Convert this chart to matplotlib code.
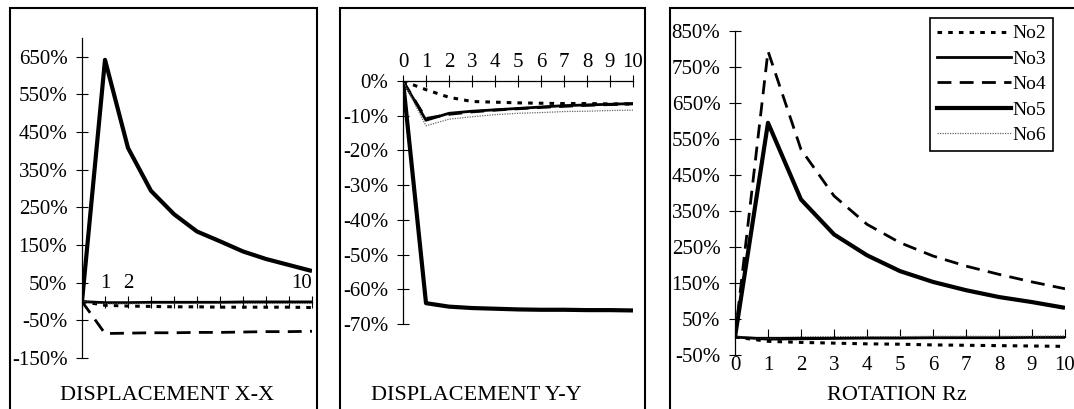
import matplotlib
matplotlib.use("Agg")
import matplotlib.pyplot as plt
from matplotlib.patches import Rectangle
from matplotlib.lines import Line2D

plt.rcParams['font.family'] = 'Liberation Serif'
plt.rcParams['axes.unicode_minus'] = False

steps = list(range(11))

# displacement X-X (%)
xx_no2 = [0, -10, -12, -13, -14, -14, -15, -15, -15, -15, -16]
xx_no3 = [0, -3, -3, -2, -2, -2, -2, -1, -1, -1, -1]
xx_no4 = [0, -85, -84, -83, -83, -82, -82, -81, -80, -80, -79]
xx_no5 = [0, 642, 408, 294, 232, 186, 160, 133, 113, 97, 81]
xx_no6 = [0, -6, -6, -5, -5, -5, -5, -5, -5, -5, -5]

# displacement Y-Y (%)
yy_no2 = [0, -2.5, -4.7, -5.9, -6.1, -6.3, -6.4, -6.5, -6.5, -6.6, -6.6]
yy_no3 = [0, -11.3, -9.3, -8.7, -8.3, -7.9, -7.5, -7.1, -6.9, -6.7, -6.5]
yy_no4 = [0, -10.8, -9.6, -8.9, -8.4, -8.0, -7.6, -7.3, -7.0, -6.8, -6.6]
yy_no5 = [0, -64.0, -65.0, -65.4, -65.6, -65.8, -65.9, -65.9, -66.0, -66.0, -66.1]
yy_no6 = [0, -12.9, -11.0, -10.3, -9.7, -9.3, -9.1, -8.8, -8.7, -8.5, -8.4]

# rotation Rz (%)
rz_no2 = [0, -12, -15, -17, -19, -20, -22, -23, -24, -25, -26]
rz_no3 = [0, -6, -5, -4, -3, -3, -2, -2, -2, -1, -1]
rz_no4 = [0, 794, 521, 392, 313, 262, 225, 197, 174, 153, 134]
rz_no5 = [0, 595, 382, 285, 227, 183, 153, 130, 111, 97, 81]
rz_no6 = [0, -3, 0, 1, 1, 1, 2, 2, 2, 2, 3]

names = ['No2', 'No3', 'No4', 'No5', 'No6']
xx_ticks = [-150, -50, 50, 150, 250, 350, 450, 550, 650]
yy_ticks = [-70, -60, -50, -40, -30, -20, -10, 0]
rz_ticks = [-50, 50, 150, 250, 350, 450, 550, 650, 750, 850]

styles = {
    'No2': dict(color='black', lw=2.2, ls=(0, (1.5, 2.0))),
    'No3': dict(color='black', lw=2.0, ls='-'),
    'No4': dict(color='black', lw=2.0, ls=(0, (5, 3))),
    'No5': dict(color='black', lw=3.0, ls='-'),
    'No6': dict(color='#666666', lw=0.9, ls=(0, (1, 1))),
}

W, H = 1074, 409
FS = 15
fig = plt.figure(figsize=(W / 100, H / 100), dpi=100)


def px_axes(x0, x1, y_top, y_bot):
    return fig.add_axes([x0 / W, 1 - y_bot / H, (x1 - x0) / W, (y_bot - y_top) / H])


def draw(ax, series):
    for name, vals in zip(names, series):
        ax.plot(steps, vals, solid_capstyle='butt', **styles[name])


def pct(ticks):
    return [f"{t}%" for t in ticks]


def style_y(ax, ticks, ylim):
    ax.set_xlim(0, 10)
    ax.set_ylim(*ylim)
    ax.set_yticks(ticks)
    ax.set_yticklabels(pct(ticks))
    ax.tick_params(axis='y', direction='inout', length=9, width=0.8, labelsize=FS, pad=6)
    ax.spines['left'].set_linewidth(0.9)
    ax.spines['right'].set_visible(False)
    ax.patch.set_visible(False)


# panel 1: displacement X-X
ax1 = px_axes(82, 312, 38, 358)
draw(ax1, [xx_no2, xx_no3, xx_no4, xx_no5, xx_no6])
style_y(ax1, xx_ticks, (-150, 700))
ax1.spines['bottom'].set_visible(False)
ax1.spines['top'].set_position(('data', 0))
ax1.spines['top'].set_linewidth(0.9)
ax1.xaxis.tick_top()
ax1.set_xticks(steps)
ax1.set_xticklabels(['', '1', '2', '', '', '', '', '', '', '', '10'])
ax1.tick_params(axis='x', direction='inout', length=9, width=0.8, labelsize=FS, pad=2)
ax1.get_xticklabels()[-1].set_ha('right')

# panel 2: displacement Y-Y
ax2 = px_axes(403, 633, 81, 324)
draw(ax2, [yy_no2, yy_no3, yy_no4, yy_no5, yy_no6])
style_y(ax2, yy_ticks, (-70, 0))
ax2.spines['bottom'].set_visible(False)
ax2.spines['top'].set_linewidth(0.9)
ax2.xaxis.tick_top()
ax2.set_xticks(steps)
ax2.set_xticklabels([str(s) for s in steps])
ax2.tick_params(axis='x', direction='inout', length=9, width=0.8, labelsize=FS, pad=2)

# panel 3: rotation Rz
ax3 = px_axes(735, 1065, 31, 355)
draw(ax3, [rz_no2, rz_no3, rz_no4, rz_no5, rz_no6])
style_y(ax3, rz_ticks, (-50, 850))
ax3.spines['top'].set_visible(False)
ax3.spines['bottom'].set_position(('data', 0))
ax3.spines['bottom'].set_linewidth(0.9)
ax3.set_xticks(steps)
ax3.set_xticklabels([str(s) for s in steps])
ax3.tick_params(axis='x', direction='in', length=6, width=0.8, labelsize=FS, pad=14)

handles = [Line2D([], [], **styles[n]) for n in names]
leg = fig.legend(handles, names, loc='upper right',
                 bbox_to_anchor=(1053 / W, 1 - 18 / H), bbox_transform=fig.transFigure,
                 fontsize=14, frameon=True, fancybox=False, framealpha=1,
                 edgecolor='black', handlelength=3.8, handletextpad=0.1,
                 labelspacing=0.4, borderpad=0.35, borderaxespad=0)
leg.get_frame().set_linewidth(1.2)

# panel titles
fig.text(167 / W, 1 - 396 / H, 'DISPLACEMENT X-X', ha='center', va='center', fontsize=FS + 1)
fig.text(476 / W, 1 - 396 / H, 'DISPLACEMENT Y-Y', ha='center', va='center', fontsize=FS + 1)
fig.text(897 / W, 1 - 396 / H, 'ROTATION Rz', ha='center', va='center', fontsize=FS + 1)

# panel frames, open at the bottom
for x0, x1 in [(10, 317), (340, 645), (670, 1090)]:
    fig.add_artist(Rectangle((x0 / W, -0.1), (x1 - x0) / W, 1.1 - 8 / H,
                             transform=fig.transFigure, fill=False,
                             edgecolor='black', lw=1.5))

fig.savefig('out.png', dpi=100)
